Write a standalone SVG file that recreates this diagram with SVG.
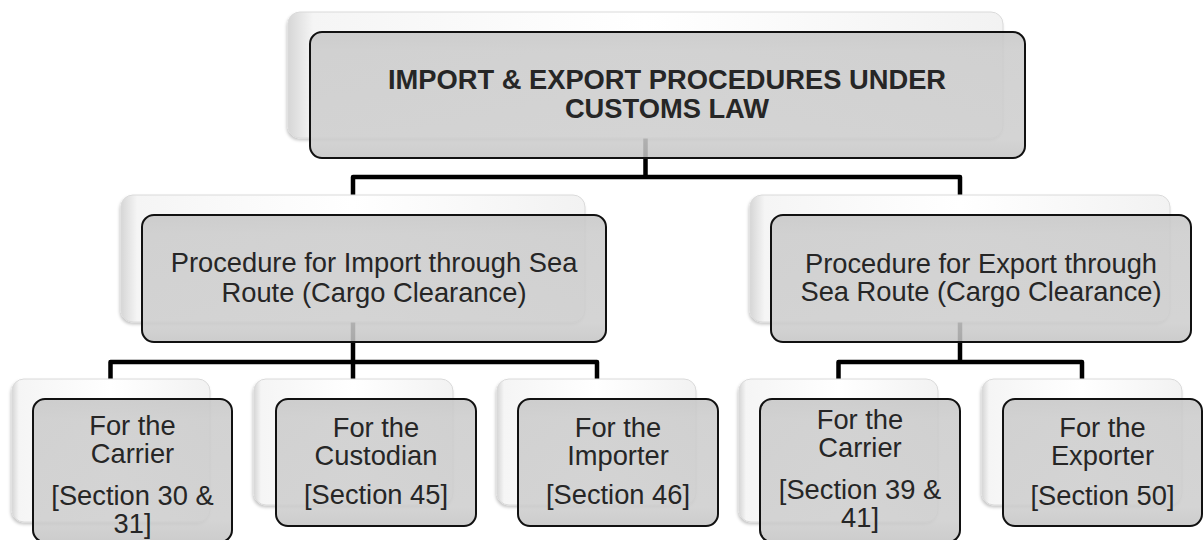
<svg xmlns="http://www.w3.org/2000/svg" width="1203" height="540" viewBox="0 0 1203 540">
<defs>
<linearGradient id="backH" x1="0" y1="0" x2="1" y2="0">
<stop offset="0" stop-color="#d6d6d6"/>
<stop offset="0.035" stop-color="#f5f5f5"/>
<stop offset="0.5" stop-color="#ffffff"/>
<stop offset="1" stop-color="#f2f2f2"/>
</linearGradient>
<linearGradient id="frontG" x1="0" y1="0" x2="0" y2="1">
<stop offset="0" stop-color="#c6c6c6"/>
<stop offset="0.15" stop-color="#cbcbcb"/>
<stop offset="0.85" stop-color="#cdcdcd"/>
<stop offset="1" stop-color="#c4c4c4"/>
</linearGradient>
<filter id="sh" x="-5%" y="-5%" width="110%" height="115%">
<feDropShadow dx="-1" dy="2" stdDeviation="1.5" flood-color="#000" flood-opacity="0.22"/>
</filter>
</defs>
<style>
.back{fill:url(#backH);stroke:#dadada;stroke-width:1;filter:url(#sh)}
.front{fill:url(#frontG);fill-opacity:0.86;stroke:#111;stroke-width:2}
.t{font-family:"Liberation Sans",Arial,sans-serif;font-size:27.3px;fill:#262626;text-anchor:middle}
.tb{font-weight:bold}
.conn{fill:none;stroke:#000;stroke-width:4.5;stroke-linejoin:round;stroke-linecap:butt}
</style>
<rect width="1203" height="540" fill="#ffffff"/>

<g id="connectors">
<path class="conn" d="M645.5,138 V177 M353,195 V177 H960 V195"/>
<path class="conn" d="M353,322 V362 M110.5,379 V362 H597 V379 M353,362 V379"/>
<path class="conn" d="M960,322 V362 M838.5,379 V362 H1082 V379"/>
</g>

<g id="node-root">
<rect class="back" x="288" y="12" width="715" height="126" rx="12"/>
<rect class="front" x="310" y="32" width="715" height="126" rx="12"/>
<text class="t tb" x="667" y="89">IMPORT &amp; EXPORT PROCEDURES UNDER</text>
<text class="t tb" x="667" y="118">CUSTOMS LAW</text>
</g>

<g id="node-import">
<rect class="back" x="121" y="195" width="464" height="127" rx="12"/>
<rect class="front" x="142" y="215" width="464" height="127" rx="12"/>
<text class="t" x="374" y="272">Procedure for Import through Sea</text>
<text class="t" x="374" y="302">Route (Cargo Clearance)</text>
</g>

<g id="node-export">
<rect class="back" x="750" y="195" width="420" height="127" rx="12"/>
<rect class="front" x="771" y="215" width="420" height="127" rx="12"/>
<text class="t" x="981" y="273">Procedure for Export through</text>
<text class="t" x="981" y="301">Sea Route (Cargo Clearance)</text>
</g>

<g id="node-carrier-import">
<rect class="back" x="12" y="379" width="198" height="143" rx="12"/>
<rect class="front" x="33" y="399" width="199" height="143" rx="12"/>
<text class="t" x="132.5" y="435">For the</text>
<text class="t" x="132.5" y="463">Carrier</text>
<text class="t" x="132.5" y="505">[Section 30 &amp;</text>
<text class="t" x="132.5" y="533">31]</text>
</g>

<g id="node-custodian">
<rect class="back" x="254" y="379" width="199" height="126" rx="12"/>
<rect class="front" x="276" y="399" width="200" height="127" rx="12"/>
<text class="t" x="376" y="437">For the</text>
<text class="t" x="376" y="465">Custodian</text>
<text class="t" x="376" y="504">[Section 45]</text>
</g>

<g id="node-importer">
<rect class="back" x="497" y="379" width="199" height="126" rx="12"/>
<rect class="front" x="518" y="399" width="200" height="127" rx="12"/>
<text class="t" x="618" y="437">For the</text>
<text class="t" x="618" y="465">Importer</text>
<text class="t" x="618" y="504">[Section 46]</text>
</g>

<g id="node-carrier-export">
<rect class="back" x="739" y="379" width="199" height="143" rx="12"/>
<rect class="front" x="760" y="399" width="200" height="143" rx="12"/>
<text class="t" x="860" y="429">For the</text>
<text class="t" x="860" y="457">Carrier</text>
<text class="t" x="860" y="499">[Section 39 &amp;</text>
<text class="t" x="860" y="527">41]</text>
</g>

<g id="node-exporter">
<rect class="back" x="982" y="379" width="200" height="126" rx="12"/>
<rect class="front" x="1003" y="399" width="199" height="127" rx="12"/>
<text class="t" x="1102.5" y="437">For the</text>
<text class="t" x="1102.5" y="465">Exporter</text>
<text class="t" x="1102.5" y="505">[Section 50]</text>
</g>
</svg>
